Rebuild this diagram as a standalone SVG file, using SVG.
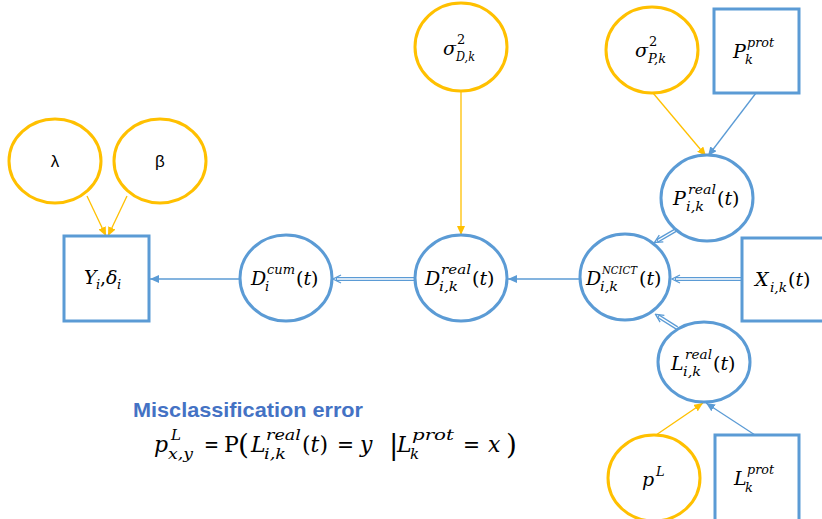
<svg xmlns="http://www.w3.org/2000/svg" width="822" height="519" viewBox="0 0 822 519">
<defs>
<style>
.o{fill:#fff;stroke:#FFC000;stroke-width:3}
.b{fill:#fff;stroke:#5B9BD5;stroke-width:3}
.lo{stroke:#FFC000;stroke-width:1.3;fill:none}
.lb{stroke:#5B9BD5;stroke-width:1.3;fill:none}
.dbl{stroke:#5B9BD5;stroke-width:4;fill:none}
.dbw{stroke:#fff;stroke-width:1.4;fill:none}
.g{font-family:"Liberation Sans",Arial,sans-serif;font-size:17px;fill:#000}
.m{font-family:"DejaVu Serif","Liberation Serif",serif;font-style:italic;font-size:19px;fill:#000}
.s{font-size:13px}
.t{font-family:"Liberation Sans",Arial,sans-serif;font-weight:bold;font-size:21px;fill:#4472C4}
.f{font-family:"DejaVu Serif","Liberation Serif",serif;font-style:italic;font-size:22px;fill:#000}
.fs{font-size:15px}
.u{font-style:normal}
</style>
<marker id="ao" markerUnits="userSpaceOnUse" viewBox="0 0 9 8" markerWidth="9" markerHeight="8" refX="9" refY="4" orient="auto"><path d="M0,0 L9,4 L0,8 z" fill="#FFC000"/></marker>
<marker id="ab" markerUnits="userSpaceOnUse" viewBox="0 0 9 8" markerWidth="9" markerHeight="8" refX="9" refY="4" orient="auto"><path d="M0,0 L9,4 L0,8 z" fill="#5B9BD5"/></marker>
<marker id="ad" markerUnits="userSpaceOnUse" viewBox="0 0 10 10" markerWidth="10" markerHeight="10" refX="6" refY="5" orient="auto"><path d="M1,1 L9,5 L1,9" fill="none" stroke="#5B9BD5" stroke-width="1.3"/></marker>
</defs>
<rect width="822" height="519" fill="#fff"/>

<g id="connectors">
<line class="lo" x1="87" y1="196" x2="106" y2="236" marker-end="url(#ao)"/>
<line class="lo" x1="127" y1="196" x2="108" y2="236" marker-end="url(#ao)"/>
<line class="lb" x1="240" y1="279" x2="150" y2="279" marker-end="url(#ab)"/>
<line class="lo" x1="461" y1="91" x2="461" y2="235" marker-end="url(#ao)"/>
<line class="lb" x1="580" y1="279" x2="508" y2="279" marker-end="url(#ab)"/>
<line class="lo" x1="653" y1="93" x2="706" y2="156" marker-end="url(#ao)"/>
<line class="lb" x1="756" y1="93" x2="708" y2="156" marker-end="url(#ab)"/>
<line class="lo" x1="656" y1="435" x2="703" y2="403" marker-end="url(#ao)"/>
<line class="lb" x1="755" y1="435" x2="706" y2="403" marker-end="url(#ab)"/>
<g>
<line class="dbl" x1="415" y1="279" x2="336" y2="279" marker-end="url(#ad)"/>
<line class="dbw" x1="415" y1="279" x2="337" y2="279"/>
<line class="dbl" x1="676" y1="230" x2="657" y2="241" marker-end="url(#ad)"/>
<line class="dbw" x1="676" y1="230" x2="658" y2="240.5"/>
<line class="dbl" x1="742" y1="279" x2="675" y2="279" marker-end="url(#ad)"/>
<line class="dbw" x1="742" y1="279" x2="676" y2="279"/>
<line class="dbl" x1="677" y1="328" x2="658" y2="316" marker-end="url(#ad)"/>
<line class="dbw" x1="677" y1="328" x2="659" y2="316.6"/>
</g>
</g>

<g id="lambda"><ellipse class="o" cx="55" cy="161" rx="46" ry="42"/><text class="g" x="55" y="167" text-anchor="middle">λ</text></g>
<g id="beta"><ellipse class="o" cx="160" cy="161" rx="46" ry="42"/><text class="g" x="160" y="167" text-anchor="middle">β</text></g>
<g id="Y"><rect class="b" x="64" y="236" width="85" height="85"/>
<text class="m" x="84" y="284">Y</text><text class="m s" x="96" y="289">i</text><text class="m u" x="100" y="284">,</text><text class="m" x="106" y="284">δ</text><text class="m s" x="117" y="289">i</text></g>

<g id="Dcum"><ellipse class="b" cx="286" cy="278" rx="46" ry="43"/>
<text class="m" x="251" y="285">D</text><text class="m s" x="267" y="274" textLength="28" lengthAdjust="spacingAndGlyphs">cum</text><text class="m s" x="265" y="291">i</text><text class="m" x="296" y="285"><tspan class="u">(</tspan>t<tspan class="u">)</tspan></text></g>

<g id="Dreal"><ellipse class="b" cx="461" cy="278" rx="46" ry="43"/>
<text class="m" x="425" y="285">D</text><text class="m s" x="441" y="274" textLength="30" lengthAdjust="spacingAndGlyphs">real</text><text class="m s" x="439" y="291" textLength="19" lengthAdjust="spacingAndGlyphs">i,k</text><text class="m" x="472" y="285"><tspan class="u">(</tspan>t<tspan class="u">)</tspan></text></g>

<g id="sigmaD"><ellipse class="o" cx="461" cy="47" rx="46" ry="44"/>
<text class="m" x="443" y="55">σ</text><text class="m s u" x="457" y="44">2</text><text class="m s" x="456" y="61" textLength="19" lengthAdjust="spacingAndGlyphs">D,k</text></g>

<g id="sigmaP"><ellipse class="o" cx="652" cy="50" rx="46" ry="43"/>
<text class="m" x="635" y="57">σ</text><text class="m s u" x="649" y="46">2</text><text class="m s" x="648" y="63" textLength="18" lengthAdjust="spacingAndGlyphs">P,k</text></g>

<g id="Pprot"><rect class="b" x="714" y="9" width="85" height="84"/>
<text class="m" x="733" y="58">P</text><text class="m s" x="747" y="47" textLength="27" lengthAdjust="spacingAndGlyphs">prot</text><text class="m s" x="745" y="64">k</text></g>

<g id="Preal"><ellipse class="b" cx="707" cy="198" rx="46" ry="43"/>
<text class="m" x="673" y="205">P</text><text class="m s" x="688" y="194" textLength="28" lengthAdjust="spacingAndGlyphs">real</text><text class="m s" x="686" y="211" textLength="18" lengthAdjust="spacingAndGlyphs">i,k</text><text class="m" x="717" y="205"><tspan class="u">(</tspan>t<tspan class="u">)</tspan></text></g>

<g id="Dncict"><ellipse class="b" cx="625" cy="277" rx="45" ry="43"/>
<text class="m" x="586" y="285">D</text><text class="m" style="font-size:11px" x="602" y="274" textLength="35" lengthAdjust="spacingAndGlyphs">NCICT</text><text class="m s" x="600" y="291" textLength="18" lengthAdjust="spacingAndGlyphs">i,k</text><text class="m" x="639" y="285"><tspan class="u">(</tspan>t<tspan class="u">)</tspan></text></g>

<g id="X"><rect class="b" x="742" y="238" width="85" height="83"/>
<text class="m" x="755" y="286">X</text><text class="m s" x="770" y="292" textLength="17" lengthAdjust="spacingAndGlyphs">i,k</text><text class="m" x="788" y="286"><tspan class="u">(</tspan>t<tspan class="u">)</tspan></text></g>

<g id="Lreal"><ellipse class="b" cx="704" cy="362" rx="46" ry="40"/>
<text class="m" x="671" y="370">L</text><text class="m s" x="685" y="359" textLength="27" lengthAdjust="spacingAndGlyphs">real</text><text class="m s" x="683" y="376" textLength="18" lengthAdjust="spacingAndGlyphs">i,k</text><text class="m" x="713" y="370"><tspan class="u">(</tspan>t<tspan class="u">)</tspan></text></g>

<g id="pL"><ellipse class="o" cx="654" cy="478" rx="46" ry="43"/>
<text class="m" x="642" y="486">p</text><text class="m s" x="656" y="476">L</text></g>

<g id="Lprot"><rect class="b" x="715" y="435" width="84" height="86"/>
<text class="m" x="734" y="485">L</text><text class="m s" x="747" y="474" textLength="27" lengthAdjust="spacingAndGlyphs">prot</text><text class="m s" x="745" y="492">k</text></g>

<g id="formula">
<text class="t" x="133" y="417" textLength="230" lengthAdjust="spacingAndGlyphs">Misclassification error</text>
<text class="f" x="154" y="452">p</text><text class="f fs" x="171" y="440">L</text><text class="f fs" x="168" y="459" textLength="25" lengthAdjust="spacingAndGlyphs">x,y</text>
<text class="f u" x="204" y="452" textLength="15" lengthAdjust="spacingAndGlyphs">=</text>
<text class="f u" x="224" y="452">P</text><text class="f u" x="238" y="454" style="font-size:28px">(</text>
<text class="f" x="251" y="452">L</text><text class="f fs" x="266" y="440" textLength="35" lengthAdjust="spacingAndGlyphs">real</text><text class="f fs" x="264" y="459" textLength="22" lengthAdjust="spacingAndGlyphs">i,k</text>
<text class="f" x="302" y="452"><tspan class="u">(</tspan>t<tspan class="u">)</tspan></text>
<text class="f u" x="337" y="452" textLength="17" lengthAdjust="spacingAndGlyphs">=</text>
<text class="f" x="360" y="452">y</text>
<text class="f u" x="389" y="454" style="font-size:28px">|</text>
<text class="f" x="397" y="452">L</text><text class="f fs" x="412" y="440" textLength="42" lengthAdjust="spacingAndGlyphs">prot</text><text class="f fs" x="410" y="459">k</text>
<text class="f u" x="463" y="452" textLength="17" lengthAdjust="spacingAndGlyphs">=</text>
<text class="f" x="488" y="452">x</text>
<text class="f u" x="506" y="454" style="font-size:28px">)</text>
</g>
</svg>
